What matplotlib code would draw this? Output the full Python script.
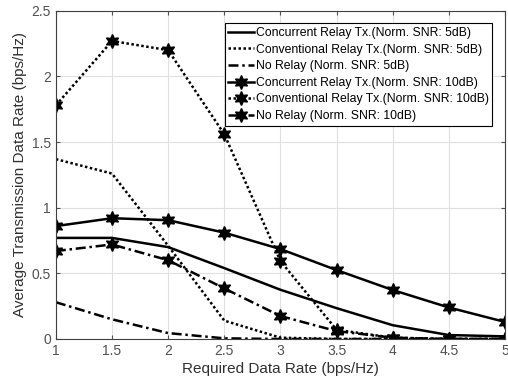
import matplotlib
matplotlib.use("Agg")
import matplotlib.pyplot as plt

plt.rcParams['font.family'] = ['Liberation Sans', 'DejaVu Sans']

x = [1, 1.5, 2, 2.5, 3, 3.5, 4, 4.5, 5]
conc_5 = [0.77, 0.77, 0.70, 0.54, 0.375, 0.235, 0.105, 0.03, 0.02]
conv_5 = [1.37, 1.26, 0.71, 0.14, 0.01, 0.0, 0.0, 0.0, 0.0]
norelay_5 = [0.28, 0.15, 0.045, 0.005, 0.0, 0.0, 0.0, 0.0, 0.0]
conc_10 = [0.86, 0.92, 0.905, 0.81, 0.685, 0.525, 0.373, 0.24, 0.13]
conv_10 = [1.78, 2.27, 2.20, 1.56, 0.594, 0.07, 0.01, 0.0, 0.0]
norelay_10 = [0.67, 0.72, 0.60, 0.385, 0.175, 0.06, 0.01, 0.0, 0.0]

labels = [
    'Concurrent Relay Tx.(Norm. SNR: 5dB)',
    'Conventional Relay Tx.(Norm. SNR: 5dB)',
    'No Relay (Norm. SNR: 5dB)',
    'Concurrent Relay Tx.(Norm. SNR: 10dB)',
    'Conventional Relay Tx.(Norm. SNR: 10dB)',
    'No Relay (Norm. SNR: 10dB)',
]
xticks = [1, 1.5, 2, 2.5, 3, 3.5, 4, 4.5, 5]
yticks = [0, 0.5, 1, 1.5, 2, 2.5]

fig = plt.figure(figsize=(5.08, 3.85), dpi=100)
ax = fig.add_axes([0.110, 0.1195, 0.884, 0.8525])

lw = 1.8
mk = (6, 1, 0)
ms = 10
ax.plot(x, conc_5, color='black', lw=lw, ls='-', label=labels[0])
ax.plot(x, conv_5, color='black', lw=lw, ls=(0, (1, 1)), label=labels[1])
ax.plot(x, norelay_5, color='black', lw=lw, ls=(0, (4, 1.5, 1, 1.5)), label=labels[2])
ax.plot(x, conc_10, color='black', lw=lw, ls='-', marker=mk, ms=ms, label=labels[3])
ax.plot(x, conv_10, color='black', lw=lw, ls=(0, (1, 1)), marker=mk, ms=ms, label=labels[4])
ax.plot(x, norelay_10, color='black', lw=lw, ls=(0, (4, 1.5, 1, 1.5)), marker=mk, ms=ms, label=labels[5])

ax.set_xlim(1, 5)
ax.set_ylim(0, 2.5)
ax.set_xticks(xticks)
ax.set_xticklabels(['1', '1.5', '2', '2.5', '3', '3.5', '4', '4.5', '5'])
ax.set_yticks(yticks)
ax.set_yticklabels(['0', '0.5', '1', '1.5', '2', '2.5'])
ax.grid(True, color='#e0e0e0', lw=0.8)
ax.set_axisbelow(True)
ax.tick_params(direction='in', top=True, right=True, labelsize=10, colors='#505050', length=3)
for s in ax.spines.values():
    s.set_color('#404040')
    s.set_linewidth(0.8)
ax.set_xlabel('Required Data Rate (bps/Hz)', fontsize=11, color='#303030', labelpad=3)
ax.set_ylabel('Average Transmission Data Rate (bps/Hz)', fontsize=11, color='#303030', labelpad=3)

leg = ax.legend(loc='upper right', bbox_to_anchor=(0.972, 0.962), fontsize=8.8, frameon=True,
                fancybox=False, edgecolor='black', framealpha=1, handlelength=2.1,
                handletextpad=0.15, labelspacing=0.38, borderpad=0.3, borderaxespad=0)
leg.get_frame().set_linewidth(0.8)

fig.savefig('out.png', dpi=100)
